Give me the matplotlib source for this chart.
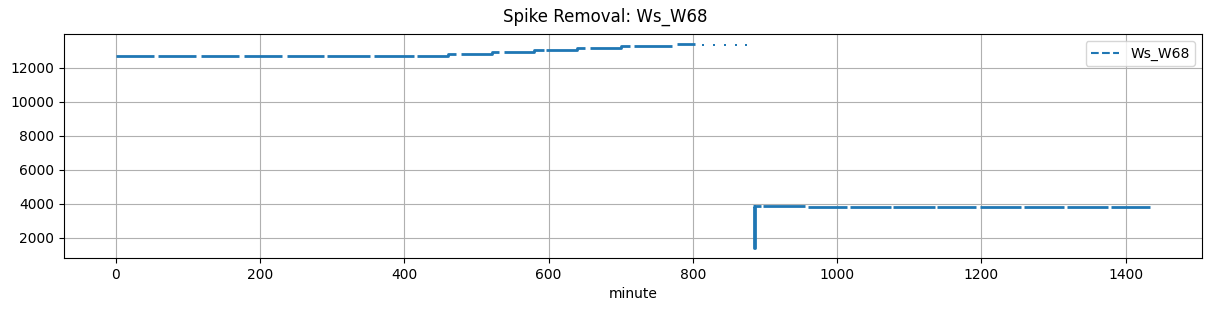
import numpy as np
import matplotlib
matplotlib.use("Agg")
import matplotlib.pyplot as plt
from matplotlib.lines import Line2D

nan = np.nan

# minute at which each run starts, and its value (nan = removed / gap)
minutes = [0, 53, 58, 112, 118, 171, 178, 230, 238, 289, 293, 352, 358, 413, 418,
           460, 471, 479, 521, 531, 538, 580, 593, 597, 639, 651, 658, 700, 713, 718,
           771, 778, 803,
           884, 885, 886, 894, 897, 955, 959, 1014, 1018, 1074, 1078, 1135, 1139,
           1193, 1198, 1255, 1259, 1314, 1319, 1375, 1379, 1434]
values = [12706, nan, 12706, nan, 12706, nan, 12706, nan, 12706, nan, 12706, nan, 12706, nan, 12706,
          12812, nan, 12812, 12923, nan, 12923, 13041, nan, 13041, 13159, nan, 13159, 13276, nan, 13276,
          nan, 13394, nan,
          3880, 1420, 3880, nan, 3880, nan, 3820, nan, 3820, nan, 3820, nan, 3820,
          nan, 3820, nan, 3820, nan, 3820, nan, 3820, nan]

# isolated samples left after spike removal
dot_minutes = [814, 829, 845, 860, 874]
dot_values = [13360, 13360, 13360, 13360, 13360]

name = "Ws_W68"
color = "#1f77b4"

fig = plt.figure(figsize=(12.11, 3.11), dpi=100)
ax = fig.add_axes([0.0528, 0.1704, 0.9398, 0.7203])

ax.plot(minutes, values, drawstyle="steps-post", color=color, linewidth=2.0,
        solid_capstyle="butt")
ax.plot(dot_minutes, dot_values, linestyle="none", marker="s", markersize=2.0,
        color=color, markeredgewidth=0)

handle = Line2D([0], [0], color=color, linestyle="--", linewidth=1.5, label=name)
ax.legend(handles=[handle], loc="upper right")

ax.set_xlabel("minute")
ax.grid(True)
fig.suptitle(f"Spike Removal: {name}", y=0.975)

fig.savefig("out.png", dpi=100)
